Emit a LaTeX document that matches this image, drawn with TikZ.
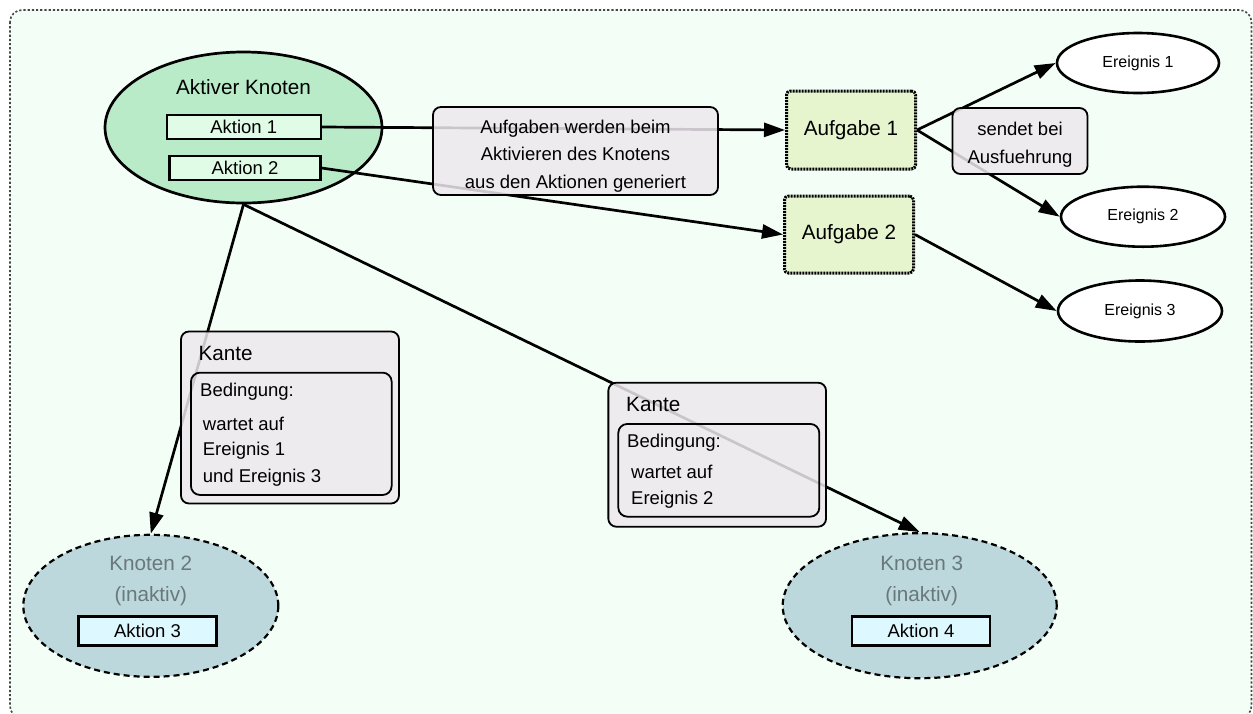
\documentclass[tikz,border=0pt]{standalone}
\usepackage{fontspec}
\setmainfont{Liberation Sans}
\usetikzlibrary{shapes.geometric,arrows.meta}

\definecolor{bgmint}{RGB}{243,254,246}
\definecolor{framegray}{RGB}{70,70,70}
\definecolor{activefill}{RGB}{185,235,201}
\definecolor{actionfill}{RGB}{224,252,230}
\definecolor{taskfill}{RGB}{230,245,206}
\definecolor{notefill}{RGB}{238,232,238}
\definecolor{idlefill}{RGB}{188,216,220}
\definecolor{idletext}{RGB}{105,120,122}
\definecolor{idleaction}{RGB}{222,248,255}

\newcommand{\txtN}{\fontsize{18.5}{27.6}\selectfont}
\newcommand{\txtL}{\fontsize{20.7}{31.7}\selectfont}
\newcommand{\txtS}{\fontsize{16}{20}\selectfont}

\tikzset{
  activenode/.style={ellipse, draw, line width=2.7pt, fill=activefill, inner sep=0pt},
  idlenode/.style={ellipse, draw, line width=2.2pt, dash pattern=on 6pt off 4pt, fill=idlefill, inner sep=0pt},
  actionbox/.style={rectangle, draw, line width=2.2pt, fill=actionfill, inner sep=0pt, font=\txtN},
  idleactionbox/.style={rectangle, draw, line width=2.2pt, fill=idleaction, inner sep=0pt, font=\txtN},
  taskbox/.style={rectangle, rounded corners=4pt, draw, line width=3pt, dash pattern=on 2pt off 1pt, fill=taskfill, inner sep=0pt, font=\txtL},
  eventnode/.style={ellipse, draw, line width=2.6pt, fill=white, inner sep=0pt, font=\txtS},
  notebox/.style={rectangle, rounded corners=8pt, draw, line width=1.8pt, fill=notefill, fill opacity=0.85, inner sep=0pt},
  innerbox/.style={rectangle, rounded corners=9pt, draw, line width=1.8pt, inner sep=0pt},
  notetext/.style={inner sep=0pt, align=center, font=\txtN},
  plain/.style={inner sep=0pt, font=\txtN, anchor=west},
  link/.style={line width=2.7pt, -{Triangle[length=21pt,width=14pt]}},
}

\begin{document}
\begin{tikzpicture}[x=1pt,y=-1pt]
  \useasboundingbox (0,0) rectangle (1253,713);
  % frame
  \begin{scope}
    \clip (0,0) rectangle (1253,713);
    \draw[framegray, line width=1.6pt, dash pattern=on 2.2pt off 2pt, fill=bgmint, rounded corners=12pt]
      (10,10) rectangle (1251.5,718);
  \end{scope}

  % active node with its actions
  \node[activenode, minimum width=277pt, minimum height=151pt] (aktiv) at (243.5,127.5) {};
  \node[inner sep=0pt, font=\txtL] (aktivtitle) at (243.5,87) {Aktiver Knoten};
  \node[actionbox, minimum width=154pt, minimum height=24pt] (a1) at (243.7,127) {Aktion 1};
  \node[actionbox, minimum width=151pt, minimum height=24pt] (a2) at (245,168) {Aktion 2};

  % tasks
  \node[taskbox, minimum width=129pt, minimum height=78pt] (auf1) at (851,130) {Aufgabe 1};
  \node[taskbox, minimum width=129pt, minimum height=77pt] (auf2) at (849,234.5) {Aufgabe 2};

  % events
  \node[eventnode, minimum width=162pt, minimum height=60pt] (er1) at (1138,63) {Ereignis 1};
  \node[eventnode, minimum width=164pt, minimum height=60pt] (er2) at (1143,216.7) {Ereignis 2};
  \node[eventnode, minimum width=164pt, minimum height=61pt] (er3) at (1140,311) {Ereignis 3};

  % inactive nodes
  \node[idlenode, minimum width=255pt, minimum height=142pt] (k2) at (150.8,605.8) {};
  \node[inner sep=0pt, font=\txtL, text=idletext, align=center] (k2title) at (150.8,581) {Knoten 2\\(inaktiv)};
  \node[idleactionbox, minimum width=138pt, minimum height=29pt] (a3) at (147.5,631) {Aktion 3};

  \node[idlenode, minimum width=274pt, minimum height=145pt] (k3) at (919.7,605.7) {};
  \node[inner sep=0pt, font=\txtL, text=idletext, align=center] (k3title) at (921.7,581) {Knoten 3\\(inaktiv)};
  \node[idleactionbox, minimum width=138pt, minimum height=29pt] (a4) at (921,631) {Aktion 4};

  % connectors
  \draw[link] (a1.east) -- (auf1.west);
  \draw[link] (a2.east) -- (auf2.west);
  \draw[link] (auf1.east) -- (er1.west);
  \draw[link] (auf1.east) -- (er2.west);
  \draw[link] (auf2.east) -- (er3.west);
  \draw[link] (aktiv.south) -- (k2.north);
  \draw[link] (aktiv.south) -- (k3.north);

  % notes on top of the connectors
  \node[notebox, minimum width=285pt, minimum height=88pt] (gen) at (575.5,151) {};
  \node[notetext] (gentext) at (575.5,156)
    {Aufgaben werden beim\\Aktivieren des Knotens\\aus den Aktionen generiert};
  \node[notebox, minimum width=135pt, minimum height=66pt] (send) at (1020,141) {};
  \node[notetext] (sendtext) at (1020,145) {sendet bei\\Ausfuehrung};

  % edge conditions
  \node[notebox, minimum width=218pt, minimum height=172pt] (kante1) at (290,417.5) {};
  \node[innerbox, minimum width=200.7pt, minimum height=122.3pt] (bed1) at (291.3,433.8) {};
  \node[plain, font=\txtL] (kante1t) at (198.3,353) {Kante};
  \node[plain] (bed1t) at (200,391.7) {Bedingung:};
  \node[plain] (bed1a) at (202.7,424) {wartet auf};
  \node[plain] (bed1b) at (202.7,451) {Ereignis 1};
  \node[plain] (bed1c) at (202.7,478) {und Ereignis 3};

  \node[notebox, minimum width=217.7pt, minimum height=144pt] (kante2) at (717.2,454.7) {};
  \node[innerbox, minimum width=201pt, minimum height=92.7pt] (bed2) at (718.8,470.3) {};
  \node[plain, font=\txtL] (kante2t) at (626,404.3) {Kante};
  \node[plain] (bed2t) at (627,442.7) {Bedingung:};
  \node[plain] (bed2a) at (631,471.7) {wartet auf};
  \node[plain] (bed2b) at (631,499.3) {Ereignis 2};
\end{tikzpicture}
\end{document}
